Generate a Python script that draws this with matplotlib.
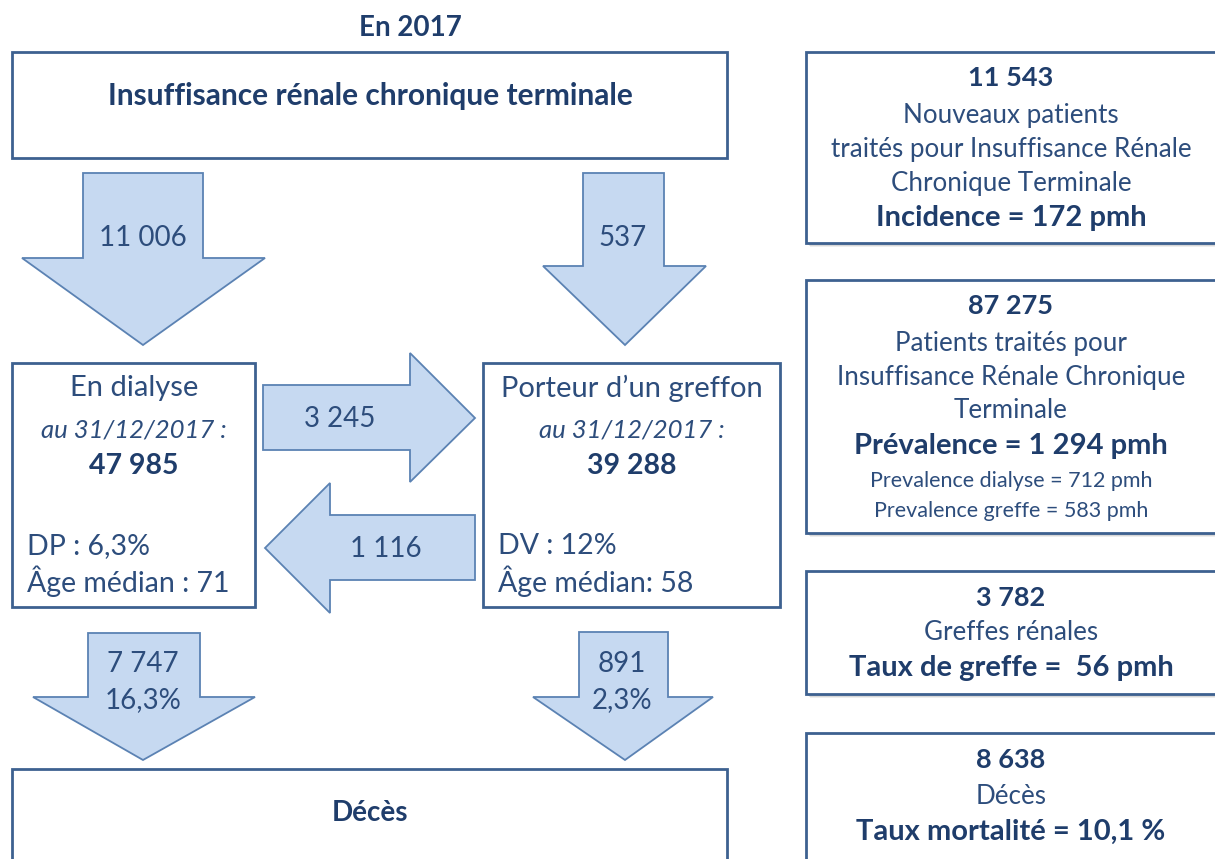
import matplotlib
matplotlib.use("Agg")
import matplotlib.pyplot as plt
from matplotlib.patches import Polygon, Rectangle

# ---------------- data ----------------
year_title = "En 2017"
top_label = "Insuffisance rénale chronique terminale"
death_label = "Décès"

flow_incident_dialysis = "11 006"
flow_incident_graft = "537"
flow_dialysis_to_graft = "3 245"
flow_graft_to_dialysis = "1 116"
flow_dialysis_death = ["7 747", "16,3%"]
flow_graft_death = ["891", "2,3%"]

dialysis_lines = ["En dialyse", "au 31/12/2017 :", "47 985"]
dialysis_stats = ["DP : 6,3%", "Âge médian : 71"]
graft_lines = ["Porteur d\u2019un greffon", "au 31/12/2017 :", "39 288"]
graft_stats = ["DV : 12%", "Âge médian: 58"]

incidence_lines = ["11 543", "Nouveaux patients", "traités pour Insuffisance Rénale",
                   "Chronique Terminale", "Incidence = 172 pmh"]
prevalence_lines = ["87 275", "Patients traités pour", "Insuffisance Rénale Chronique",
                    "Terminale", "Prévalence = 1 294 pmh",
                    "Prevalence dialyse = 712 pmh", "Prevalence greffe = 583 pmh"]
graft_rate_lines = ["3 782", "Greffes rénales", "Taux de greffe =  56 pmh"]
death_rate_lines = ["8 638", "Décès", "Taux mortalité = 10,1 %"]

# ---------------- style ----------------
FONT = "Lato"
BORDER = "#3d6190"
ARROW_FILL = "#c6d9f1"
ARROW_EDGE = "#5b82b3"
TXT = "#2d4d7c"
TXT_B = "#1f3d6b"

fig = plt.figure(figsize=(12.15, 8.59), dpi=100)
ax = fig.add_axes([0, 0, 1, 1])
ax.set_xlim(0, 1215)
ax.set_ylim(859, 0)
ax.axis("off")
fig.patch.set_facecolor("white")


def box(x0, y0, x1, y1, shadow=False):
    if shadow:
        for i, a in enumerate([0.10, 0.14, 0.18]):
            off = 4 - i
            ax.add_patch(Rectangle((x0 + off, y0 + off), x1 - x0, y1 - y0,
                                   facecolor="#555555", edgecolor="none", alpha=a, zorder=1))
    ax.add_patch(Rectangle((x0, y0), x1 - x0, y1 - y0, facecolor="white",
                           edgecolor=BORDER, lw=2.0, zorder=2))


def down_arrow(sl, sr, top, hl, hr, hy, tipx, tipy):
    pts = [(sl, top), (sr, top), (sr, hy), (hr, hy), (tipx, tipy), (hl, hy), (sl, hy)]
    ax.add_patch(Polygon(pts, closed=True, facecolor=ARROW_FILL, edgecolor=ARROW_EDGE,
                         lw=1.3, zorder=3))


def h_arrow(sx0, st, sb, hx, ht, hb, tipx, tipy):
    pts = [(sx0, st), (hx, st), (hx, ht), (tipx, tipy), (hx, hb), (hx, sb), (sx0, sb)]
    ax.add_patch(Polygon(pts, closed=True, facecolor=ARROW_FILL, edgecolor=ARROW_EDGE,
                         lw=1.3, zorder=3))


def txt(x, y, s, size=20, bold=False, italic=False, ha="center", color=None):
    ax.text(x, y, s, ha=ha, va="center", fontsize=size, family=FONT,
            fontweight="bold" if bold else "normal",
            fontstyle="italic" if italic else "normal",
            color=color or (TXT_B if bold else TXT), zorder=5)


# title
txt(410, 28, year_title, size=20, bold=True)

# top box
box(12, 52, 727, 158)
txt(370, 96, top_label, size=21.5, bold=True)

# incident arrows
down_arrow(83, 203, 173, 22, 265, 258, 143, 345)
txt(143, 238, flow_incident_dialysis, size=20)
down_arrow(583, 664, 173, 543, 706, 266, 625, 345)
txt(623, 238, flow_incident_graft, size=20)

# dialysis box
box(12, 363, 255, 607)
txt(134, 388, dialysis_lines[0], size=21)
txt(134, 430, dialysis_lines[1], size=18.5, italic=True)
txt(134, 466, dialysis_lines[2], size=20.5, bold=True)
txt(27, 546, dialysis_stats[0], size=20.5, ha="left")
txt(27, 581, dialysis_stats[1], size=20.5, ha="left")

# graft box
box(483, 363, 780, 607)
txt(632, 388, graft_lines[0], size=21)
txt(632, 430, graft_lines[1], size=18.5, italic=True)
txt(632, 466, graft_lines[2], size=20.5, bold=True)
txt(498, 546, graft_stats[0], size=20.5, ha="left")
txt(498, 581, graft_stats[1], size=20.5, ha="left")

# transfer arrows
h_arrow(263, 385, 450, 410, 353, 482, 475, 418)
txt(340, 419, flow_dialysis_to_graft, size=20)
h_arrow(475, 515, 580, 330, 483, 613, 265, 548)
txt(386, 549, flow_graft_to_dialysis, size=20)

# death arrows
down_arrow(88, 200, 633, 33, 255, 697, 143, 760)
txt(143, 664, flow_dialysis_death[0], size=20)
txt(143, 700, flow_dialysis_death[1], size=20)
down_arrow(579, 668, 632, 533, 713, 697, 625, 760)
txt(622, 664, flow_graft_death[0], size=20)
txt(622, 700, flow_graft_death[1], size=20)

# death box
box(12, 769, 727, 880)
txt(370, 813, death_label, size=20, bold=True)

# right-side boxes
RX0, RX1 = 806, 1240
CX = 1011

box(RX0, 52, RX1, 243, shadow=True)
ys = [78, 115, 149, 183, 218]
for i, (y, s) in enumerate(zip(ys, incidence_lines)):
    b = i in (0, 4)
    txt(CX, y, s, size=(19.5 if i == 0 else 21) if b else 18.7, bold=b)

box(RX0, 280, RX1, 533, shadow=True)
ys = [306, 343, 378, 411, 446, 481, 511]
for i, (y, s) in enumerate(zip(ys, prevalence_lines)):
    if i == 0:
        txt(CX, y, s, size=19.5, bold=True)
    elif i == 4:
        txt(CX, y, s, size=21, bold=True)
    elif i >= 5:
        txt(CX, y, s, size=15.5)
    else:
        txt(CX, y, s, size=18.7)

box(RX0, 571, RX1, 694, shadow=True)
ys = [598, 633, 668]
for i, (y, s) in enumerate(zip(ys, graft_rate_lines)):
    b = i in (0, 2)
    txt(CX, y, s, size=(19.5 if i == 0 else 21) if b else 18.7, bold=b)

box(RX0, 733, RX1, 890, shadow=True)
ys = [760, 797, 832]
for i, (y, s) in enumerate(zip(ys, death_rate_lines)):
    b = i in (0, 2)
    txt(CX, y, s, size=(19.5 if i == 0 else 21) if b else 18.7, bold=b)

fig.savefig("out.png", dpi=100, facecolor="white")
